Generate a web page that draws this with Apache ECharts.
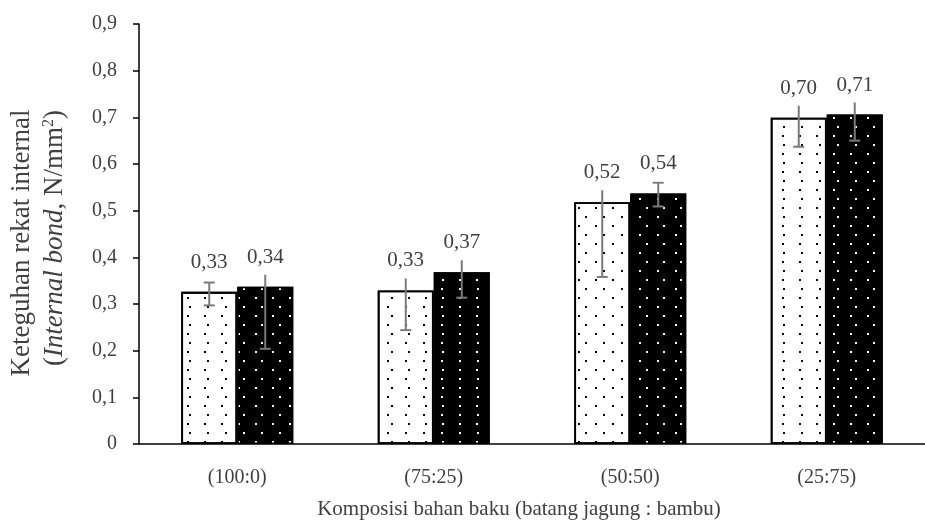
<!DOCTYPE html>
<html><head><meta charset="utf-8">
<script src="https://cdn.jsdelivr.net/npm/echarts@6/dist/echarts.min.js"></script>
<style>html,body{margin:0;padding:0;background:#fff}#c{width:925px;height:527px}</style>
</head><body><div id="c"></div>
<script>
const categories = ['(100:0)', '(75:25)', '(50:50)', '(25:75)'];
const valuesA = [0.326, 0.329, 0.518, 0.699];
const valuesB = [0.337, 0.368, 0.537, 0.706];
const errLowA = [0.297, 0.244, 0.358, 0.637];
const errHighA = [0.346, 0.38, 0.57, 0.75];
const errLowB = [0.204, 0.3135, 0.509, 0.650];
const errHighB = [0.39, 0.42, 0.56, 0.76];
const yTickLabels = ['0', '0,1', '0,2', '0,3', '0,4', '0,5', '0,6', '0,7', '0,8', '0,9'];
const xAxisName = 'Komposisi bahan baku (batang jagung : bambu)';
const yNameLine1 = 'Keteguhan rekat internal';

const FONT = '"Liberation Serif", "DejaVu Serif", serif';
const TXT = '#404040';
const CATGAP = 0.43;

function fmt(v) { return v.toFixed(2).replace('.', ','); }

function makeErr(side) {
  return function (params, api) {
    const i = api.value(0), lo = api.value(1), hi = api.value(2), v = api.value(3);
    const band = api.size([1, 0])[0];
    const bw = band * (1 - CATGAP) / 2;
    const pLo = api.coord([i, lo]), pHi = api.coord([i, hi]), pV = api.coord([i, v]);
    const x = pLo[0] + side * bw / 2;
    const capW = 11;
    const ls = { stroke: '#7a7a7a', lineWidth: 2 };
    const boxBottom = pV[1] - 12;
    return {
      type: 'group', children: [
        { type: 'line', shape: { x1: x, y1: pHi[1], x2: x, y2: pLo[1] }, style: ls },
        { type: 'line', shape: { x1: x - capW / 2, y1: pHi[1], x2: x + capW / 2, y2: pHi[1] }, style: ls },
        { type: 'line', shape: { x1: x - capW / 2, y1: pLo[1], x2: x + capW / 2, y2: pLo[1] }, style: ls },
        { type: 'text', x: x, y: boxBottom, style: { text: fmt(v), font: '21px ' + FONT, fill: TXT, align: 'center', verticalAlign: 'bottom', backgroundColor: '#fff', padding: [3, 3, 7, 3] } }
      ]
    };
  };
}

const chart = echarts.init(document.getElementById('c'));
chart.setOption({
  animation: false,
  backgroundColor: '#fff',
  grid: { left: 139, top: 24, height: 420, width: 798, containLabel: false },
  xAxis: {
    type: 'category', data: categories,
    axisLine: { lineStyle: { color: '#000', width: 1.5 } },
    axisTick: { show: false },
    axisLabel: { margin: 24, fontFamily: FONT, fontSize: 20, color: TXT }
  },
  yAxis: {
    type: 'value', min: 0, max: 0.9, interval: 0.1,
    axisLine: { show: true, lineStyle: { color: '#000', width: 1.5 } },
    axisTick: { show: true, length: 6, lineStyle: { color: '#000', width: 1.5 } },
    splitLine: { show: false },
    axisLabel: { margin: 22, fontFamily: FONT, fontSize: 20, color: TXT,
      formatter: function (v) { return yTickLabels[Math.round(v * 10)]; } }
  },
  graphic: [
    { type: 'text', x: 519, y: 509, style: { text: xAxisName, font: '21px ' + FONT, fill: TXT, align: 'center', verticalAlign: 'middle' } },
    { type: 'text', x: 22, y: 243, rotation: Math.PI / 2, style: { text: yNameLine1, font: '27px ' + FONT, fill: TXT, align: 'center', verticalAlign: 'middle' } },
    { type: 'text', x: 55, y: 238, rotation: Math.PI / 2, style: {
      text: '{a|(}{i|Internal bond}{a|, N/mm}{s|2}{a|)}', align: 'center', verticalAlign: 'middle',
      rich: {
        a: { font: '27px ' + FONT, fill: TXT },
        i: { font: 'italic 27px ' + FONT, fill: TXT },
        s: { font: '16px ' + FONT, fill: TXT, padding: [0, 0, 12, 0] }
      } } }
  ],
  series: [
    { type: 'bar', name: 'A', data: valuesA, barGap: '0%', barCategoryGap: (CATGAP * 100) + '%',
      itemStyle: { color: '#fff', borderColor: '#000', borderWidth: 1.8,
        decal: { symbol: 'rect', symbolSize: 1, color: '#000', dashArrayX: [[1.5, 15], [0, 8.25, 1.5, 6.75]], dashArrayY: [1.5, 6.8] } } },
    { type: 'bar', name: 'B', data: valuesB,
      itemStyle: { color: '#000', borderColor: '#000', borderWidth: 1.5,
        decal: { symbol: 'rect', symbolSize: 1, color: '#fff', dashArrayX: [[2, 14.5], [0, 8.25, 2, 6.25]], dashArrayY: [2, 6.3] } } },
    { type: 'custom', z: 5, clip: false, renderItem: makeErr(-1), encode: { x: 0, y: [1, 2] },
      data: categories.map((c, i) => [i, errLowA[i], errHighA[i], valuesA[i]]) },
    { type: 'custom', z: 5, clip: false, renderItem: makeErr(1), encode: { x: 0, y: [1, 2] },
      data: categories.map((c, i) => [i, errLowB[i], errHighB[i], valuesB[i]]) }
  ]
});
</script></body></html>
